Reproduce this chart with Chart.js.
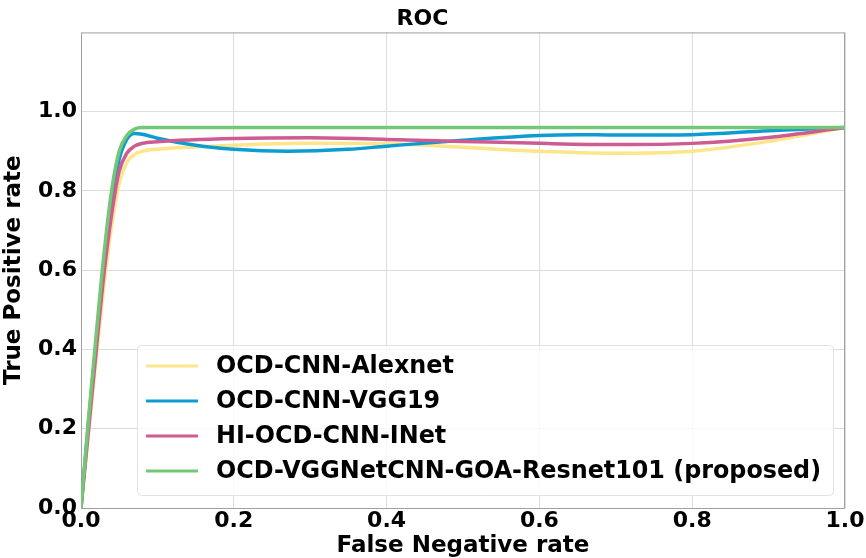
<!DOCTYPE html>
<html>
<head>
<meta charset="utf-8">
<script src="https://cdn.jsdelivr.net/npm/chart.js@4/dist/chart.umd.min.js"></script>
<style>
  html, body { margin: 0; padding: 0; background: #fff; }
  #wrap { width: 866px; height: 558px; position: relative; }
</style>
</head>
<body>
<div id="wrap"><canvas id="rocChart"></canvas></div>
<script>
// ---- data ----
const seriesNames = [
    "OCD-CNN-Alexnet",
    "OCD-CNN-VGG19",
    "HI-OCD-CNN-INet",
    "OCD-VGGNetCNN-GOA-Resnet101 (proposed)"
];
const seriesColors = ["#fde68a", "#0c9cd2", "#cc5c92", "#74c776"];

const alexX = [0, 0.01, 0.02, 0.03, 0.04, 0.05, 0.06, 0.07, 0.08, 0.1, 0.2, 0.3, 0.4, 0.5, 0.6, 0.7, 0.8, 0.9, 1.0];
const alexY = [0, 0.19, 0.38, 0.56, 0.71, 0.82, 0.872, 0.892, 0.9, 0.905, 0.915, 0.92, 0.919, 0.91, 0.9, 0.895, 0.9, 0.925, 0.96];

const vggX = [0, 0.01, 0.02, 0.03, 0.04, 0.05, 0.06, 0.07, 0.08, 0.1, 0.15, 0.2, 0.27, 0.35, 0.4, 0.5, 0.6, 0.65, 0.7, 0.8, 0.9, 1.0];
const vggY = [0, 0.22, 0.42, 0.62, 0.78, 0.88, 0.93, 0.945, 0.943, 0.933, 0.915, 0.905, 0.9, 0.905, 0.913, 0.928, 0.94, 0.942, 0.941, 0.942, 0.952, 0.96];

const inetX = [0, 0.01, 0.02, 0.03, 0.04, 0.05, 0.06, 0.07, 0.08, 0.1, 0.2, 0.3, 0.4, 0.5, 0.6, 0.7, 0.8, 0.9, 1.0];
const inetY = [0, 0.2, 0.4, 0.59, 0.74, 0.85, 0.895, 0.913, 0.92, 0.924, 0.932, 0.934, 0.93, 0.925, 0.92, 0.917, 0.92, 0.935, 0.96];

const propX = [0, 0.01, 0.02, 0.03, 0.04, 0.05, 0.06, 0.07, 0.08, 0.2, 0.4, 0.6, 0.8, 1.0];
const propY = [0, 0.23, 0.44, 0.64, 0.8, 0.9, 0.94, 0.956, 0.96, 0.96, 0.96, 0.96, 0.96, 0.96];

const xTicks = [0, 0.2, 0.4, 0.6, 0.8, 1.0];
const yTicks = [0, 0.2, 0.4, 0.6, 0.8, 1.0];

const toPoints = (xs, ys) => xs.map((x, i) => ({ x: x, y: ys[i] }));

const FONT = "'DejaVu Sans', sans-serif";

// legend drawn inside the plot area, like matplotlib's
const innerLegend = {
    id: "innerLegend",
    afterDatasetsDraw(chart) {
        const ctx = chart.ctx;
        const box = { x: 137, y: 345, w: 696, h: 150 };
        ctx.save();
        ctx.fillStyle = "rgba(255,255,255,0.8)";
        ctx.strokeStyle = "#e2e2e2";
        ctx.lineWidth = 1;
        ctx.beginPath();
        ctx.roundRect(box.x + 0.5, box.y + 0.5, box.w, box.h, 4);
        ctx.fill();
        ctx.stroke();
        ctx.font = "bold 24px " + FONT;
        ctx.textBaseline = "middle";
        chart.data.datasets.forEach((ds, i) => {
            const yy = 366 + i * 35;
            ctx.strokeStyle = ds.borderColor;
            ctx.lineWidth = 3;
            ctx.beginPath();
            ctx.moveTo(146, yy);
            ctx.lineTo(198, yy);
            ctx.stroke();
            ctx.fillStyle = "#000";
            // reference text is a touch narrower than plain DejaVu
            ctx.save();
            ctx.translate(216, yy + 1);
            ctx.scale(0.993, 1);
            ctx.fillText(ds.label, 0, 0);
            ctx.restore();
        });
        ctx.restore();
    }
};

// frame round the plot area
const frame = {
    id: "frame",
    beforeDatasetsDraw(chart) {
        const a = chart.chartArea;
        const ctx = chart.ctx;
        ctx.save();
        ctx.strokeStyle = "#a0a0a0";
        ctx.lineWidth = 1;
        ctx.strokeRect(a.left + 0.5, a.top + 0.5, a.right - a.left - 1, a.bottom - a.top);
        ctx.restore();
    }
};

const datasets = [
    { label: seriesNames[0], data: toPoints(alexX, alexY), borderColor: seriesColors[0], order: 3 },
    { label: seriesNames[1], data: toPoints(vggX, vggY), borderColor: seriesColors[1], order: 2 },
    { label: seriesNames[2], data: toPoints(inetX, inetY), borderColor: seriesColors[2], order: 1 },
    { label: seriesNames[3], data: toPoints(propX, propY), borderColor: seriesColors[3], order: 0 }
].map(d => Object.assign(d, {
    showLine: true,
    borderWidth: 3.5,
    pointRadius: 0,
    fill: false,
    cubicInterpolationMode: "monotone"
}));

new Chart(document.getElementById("rocChart"), {
    type: "scatter",
    data: { datasets: datasets },
    plugins: [frame, innerLegend],
    options: {
        responsive: true,
        maintainAspectRatio: false,
        animation: false,
        layout: { padding: { left: 0, right: 21, top: 0, bottom: 0 } },
        plugins: {
            legend: { display: false },
            tooltip: { enabled: false },
            title: {
                display: true,
                text: "ROC",
                color: "#000",
                font: { family: FONT, size: 22, weight: "bold" },
                padding: { top: 6, bottom: 0 }
            }
        },
        scales: {
            x: {
                type: "linear",
                min: 0,
                max: 1,
                afterBuildTicks: s => { s.ticks = xTicks.map(v => ({ value: v })); },
                afterFit: s => { s.height = 50; },
                ticks: {
                    color: "#000",
                    font: { family: FONT, size: 22, weight: "bold" },
                    padding: 0,
                    callback: v => v.toFixed(1)
                },
                grid: { color: "#dcdcdc", drawTicks: false },
                border: { display: false },
                title: {
                    display: true,
                    text: "False Negative rate",
                    color: "#000",
                    font: { family: FONT, size: 23, weight: "bold" },
                    padding: { top: 0, bottom: -2 }
                }
            },
            y: {
                type: "linear",
                min: 0,
                max: 1.2,
                afterBuildTicks: s => { s.ticks = yTicks.map(v => ({ value: v })); },
                afterFit: s => { s.width = 81; },
                ticks: {
                    color: "#000",
                    font: { family: FONT, size: 22, weight: "bold" },
                    padding: 4,
                    callback: v => v.toFixed(1)
                },
                grid: { color: "#dcdcdc", drawTicks: false },
                border: { display: false },
                title: {
                    display: true,
                    text: "True Positive rate",
                    color: "#000",
                    font: { family: FONT, size: 23, weight: "bold" },
                    padding: { top: 0, bottom: 0 }
                }
            }
        }
    }
});
</script>
</body>
</html>
